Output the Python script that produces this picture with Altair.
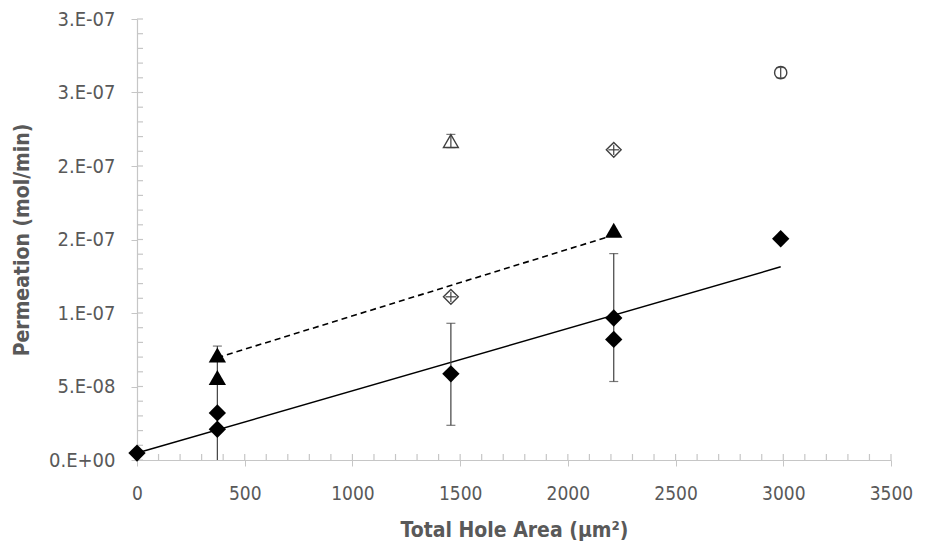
import altair as alt
import pandas as pd

# ---------------- data ----------------
x_ticks = [0, 500, 1000, 1500, 2000, 2500, 3000, 3500]
y_ticks = [0, 5e-8, 1e-7, 1.5e-7, 2e-7, 2.5e-7, 3e-7]
y_labels = ["0.E+00", "5.E-08", "1.E-07", "2.E-07", "2.E-07", "3.E-07", "3.E-07"]
x_minor = list(range(0, 3501, 100))
y_minor = [i * 1e-8 for i in range(0, 31)]

diam_x = [0, 373, 373, 1457, 2213, 2213, 2988]
diam_y = [0.47e-8, 2.09e-8, 3.2e-8, 5.86e-8, 9.66e-8, 8.2e-8, 1.505e-7]

tri_x = [373, 373, 2213]
tri_y = [5.61e-8, 7.14e-8, 1.563e-7]

open_tri_x = [1457]
open_tri_y = [2.17e-7]
open_diam_x = [1457, 2213]
open_diam_y = [1.11e-7, 2.11e-7]
open_circ_x = [2988]
open_circ_y = [2.635e-7]

# vertical error bars (x, low, high, cap at low, cap at high)
err_x = [373, 1457, 2213, 1457, 2988, 1457, 2213]
err_lo = [0, 2.36e-8, 5.34e-8, 2.125e-7, 2.6e-7, 1.075e-7, 2.075e-7]
err_hi = [7.75e-8, 9.3e-8, 1.404e-7, 2.215e-7, 2.67e-7, 1.145e-7, 2.145e-7]
cap_lo = [False, True, True, True, True, False, False]
cap_hi = [True, True, True, True, True, False, False]
# horizontal error bars (y, x low, x high)
herr_y = [1.11e-7, 2.11e-7]
herr_lo = [1432, 2188]
herr_hi = [1482, 2238]

fit_x = [0, 2988]
fit_y = [0.47e-8, 1.314e-7]
dash_x = [373, 2213]
dash_y = [6.96e-8, 1.53e-7]

# ---------------- styling ----------------
AX = "#c6c6c6"
TXT = "#595959"
FONT = "Liberation Sans Narrow, DejaVu Sans Condensed, Liberation Sans, sans-serif"
W, H = 754, 441

xs = alt.Scale(domain=[0, 3500], nice=False, zero=False)
ys = alt.Scale(domain=[0, 3e-7], nice=False, zero=False)

label_expr = ""
for v, l in zip(y_ticks, y_labels):
    label_expr += f"abs(datum.value - {v}) < 1e-10 ? '{l}' : "
label_expr += "''"

xaxis = alt.Axis(values=x_ticks, format="d", title="Total Hole Area (\u03bcm\u00b2)", grid=False,
                 domainColor=AX, tickColor=AX, tickSize=6, domainWidth=1.2, labelFlush=False,
                 labelFont=FONT, labelFontSize=19, labelColor=TXT, labelPadding=18,
                 titleFont=FONT, titleFontSize=21, titleFontWeight="bold", titleColor=TXT,
                 titleY=70, titleBaseline="middle")
yaxis = alt.Axis(values=y_ticks, labelExpr=label_expr, title="Permeation (mol/min)", grid=False,
                 domainColor=AX, tickColor=AX, tickSize=6, domainWidth=1.2, labelFlush=False,
                 labelFont=FONT, labelFontSize=20, labelColor=TXT, labelPadding=16,
                 titleFont=FONT, titleFontSize=21, titleFontWeight="bold", titleColor=TXT,
                 titleX=-115, titleY=H / 2, titleAngle=270, titleBaseline="middle",
                 titleAlign="center")

df_xm = pd.DataFrame({"x": x_minor})
df_ym = pd.DataFrame({"y": y_minor})
x_minor_layer = alt.Chart(df_xm).mark_rule(color=AX, strokeWidth=1.2).encode(
    x=alt.X("x:Q", scale=xs, axis=xaxis), y=alt.value(H - 6), y2=alt.value(H))
y_minor_layer = alt.Chart(df_ym).mark_rule(color=AX, strokeWidth=1.2).encode(
    y=alt.Y("y:Q", scale=ys, axis=yaxis), x=alt.value(0), x2=alt.value(6))

df_fit = pd.DataFrame({"x": fit_x, "y": fit_y})
df_dash = pd.DataFrame({"x": dash_x, "y": dash_y})
fit_layer = alt.Chart(df_fit).mark_line(color="#000000", strokeWidth=1.5).encode(
    x=alt.X("x:Q", scale=xs), y=alt.Y("y:Q", scale=ys))
dash_layer = alt.Chart(df_dash).mark_line(color="#000000", strokeWidth=1.6,
                                          strokeDash=[6, 4]).encode(
    x=alt.X("x:Q", scale=xs), y=alt.Y("y:Q", scale=ys))

df_err = pd.DataFrame({"x": err_x, "lo": err_lo, "hi": err_hi})
err_layer = alt.Chart(df_err).mark_rule(color="#404040", strokeWidth=1.2).encode(
    x=alt.X("x:Q", scale=xs), y=alt.Y("lo:Q", scale=ys), y2="hi:Q")
caps_rows = []
for xv, lo, hi, cl, ch in zip(err_x, err_lo, err_hi, cap_lo, cap_hi):
    if cl:
        caps_rows.append({"x": xv, "y": lo})
    if ch:
        caps_rows.append({"x": xv, "y": hi})
df_caps = pd.DataFrame(caps_rows)
cap_layer = alt.Chart(df_caps).mark_tick(color="#404040", thickness=1.2, size=9,
                                         orient="horizontal").encode(
    x=alt.X("x:Q", scale=xs), y=alt.Y("y:Q", scale=ys))
df_herr = pd.DataFrame({"y": herr_y, "lo": herr_lo, "hi": herr_hi})
herr_layer = alt.Chart(df_herr).mark_rule(color="#404040", strokeWidth=1.2).encode(
    y=alt.Y("y:Q", scale=ys), x=alt.X("lo:Q", scale=xs), x2="hi:Q")


def pts(xv, yv, shape, size, filled):
    df = pd.DataFrame({"x": xv, "y": yv})
    if filled:
        m = alt.Chart(df).mark_point(shape=shape, size=size, filled=True,
                                     color="#000000", opacity=1)
    else:
        m = alt.Chart(df).mark_point(shape=shape, size=size, filled=True, fill="#ffffff",
                                     stroke="#404040", strokeWidth=1.4, opacity=1)
    return m.encode(x=alt.X("x:Q", scale=xs), y=alt.Y("y:Q", scale=ys))


diam_layer = pts(diam_x, diam_y, "diamond", 300, True)
tri_layer = pts(tri_x, tri_y, "triangle-up", 300, True)
otri_layer = pts(open_tri_x, open_tri_y, "triangle-up", 220, False)
odiam_layer = pts(open_diam_x, open_diam_y, "diamond", 220, False)
ocirc_layer = pts(open_circ_x, open_circ_y, "circle", 150, False)

chart = alt.layer(
    x_minor_layer, y_minor_layer, fit_layer, dash_layer,
    err_layer.transform_filter("datum.lo < 1e-7"),
    cap_layer.transform_filter("datum.y < 1.9e-7"),
    diam_layer, tri_layer, otri_layer, odiam_layer, ocirc_layer,
    err_layer.transform_filter("datum.lo > 1e-7"),
    cap_layer.transform_filter("datum.y > 1.9e-7"),
    herr_layer,
).properties(
    width=W, height=H,
    autosize=alt.AutoSizeParams(type="none"),
    padding={"left": 129, "top": 11, "right": 26, "bottom": 90},
    background="#ffffff",
).configure_view(stroke=None)

chart.save("out.html", embed_options={"renderer": "svg", "actions": False})
